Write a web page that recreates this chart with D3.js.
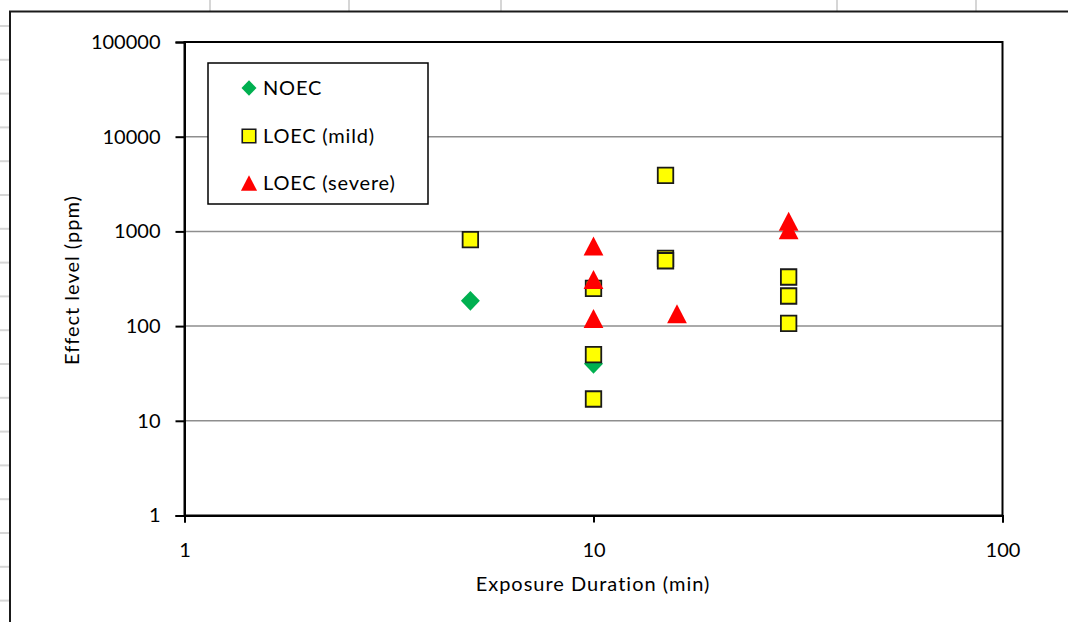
<!DOCTYPE html>
<html>
<head>
<meta charset="utf-8">
<script src="https://cdn.jsdelivr.net/npm/d3@7"></script>
<style>
  html, body { margin: 0; padding: 0; background: #ffffff; overflow: hidden; }
  svg { display: block; }
  text { font-family: Lato, "Liberation Sans", sans-serif; fill: #000; }
</style>
</head>
<body>
<svg id="chart" width="1068" height="622"></svg>
<script>
// ---- data ----
const noecX = [5, 10];
const noecY = [185, 40];
const mildX = [5, 10, 10, 10, 15, 15, 15, 30, 30, 30];
const mildY = [820, 250, 50, 17, 3900, 520, 490, 330, 208, 107];
const severeX = [10, 10, 10, 16, 30, 30];
const severeY = [700, 310, 120, 135, 1280, 1040];
const yTicks = [1, 10, 100, 1000, 10000, 100000];
const xTicks = [1, 10, 100];
const seriesNames = ["NOEC", "LOEC (mild)", "LOEC (severe)"];
const xTitle = "Exposure Duration (min)";
const yTitle = "Effect level (ppm)";

// ---- layout ----
const svg = d3.select("#chart");
const W = 1068, H = 622;
const plot = { left: 184.5, right: 1002.5, top: 42, bottom: 515.5 };

const x = d3.scaleLog().domain([1, 100]).range([plot.left, plot.right]);
const y = d3.scaleLog().domain([1, 100000]).range([plot.bottom, plot.top]);

// spreadsheet background lines
const bg = svg.append("g");
const colLines = [210, 349, 501, 837, 976];
colLines.forEach(cx => bg.append("line").attr("x1", cx).attr("x2", cx).attr("y1", 0).attr("y2", 11)
  .attr("stroke", "#d6d6d6").attr("stroke-width", 2));
for (let ry = 26; ry < H; ry += 33.8) {
  bg.append("line").attr("x1", 0).attr("x2", 9).attr("y1", ry).attr("y2", ry)
    .attr("stroke", "#d6d6d6").attr("stroke-width", 2);
}

// chart area
svg.append("rect").attr("x", 10).attr("y", 11.5).attr("width", 1200).attr("height", 800)
  .attr("fill", "#fff").attr("stroke", "#1a1a1a").attr("stroke-width", 2);

// gridlines
svg.append("g").selectAll("line").data(yTicks.filter(d => d > 1 && d < 100000)).join("line")
  .attr("x1", plot.left).attr("x2", plot.right)
  .attr("y1", d => y(d)).attr("y2", d => y(d))
  .attr("stroke", "#8e8e8e").attr("stroke-width", 1.5);

// plot frame
svg.append("rect").attr("x", plot.left).attr("y", plot.top)
  .attr("width", plot.right - plot.left).attr("height", plot.bottom - plot.top)
  .attr("fill", "none").attr("stroke", "#000").attr("stroke-width", 2);

// axes
const yAxis = d3.axisLeft(y).tickValues(yTicks).tickFormat(d3.format("d")).tickSize(9).tickPadding(15);
const gy = svg.append("g").attr("transform", `translate(${plot.left},0)`).call(yAxis);
gy.select(".domain").attr("stroke", "#000").attr("stroke-width", 2);
gy.selectAll(".tick line").attr("stroke", "#000").attr("stroke-width", 2);
gy.selectAll(".tick text").attr("font-size", 20).attr("font-family", "Lato, sans-serif").attr("fill", "#000");

const xAxis = d3.axisBottom(x).tickValues(xTicks).tickFormat(d3.format("d")).tickSize(7).tickPadding(20);
const gx = svg.append("g").attr("transform", `translate(0,${plot.bottom})`).call(xAxis);
gx.select(".domain").attr("stroke", "#000").attr("stroke-width", 2);
gx.selectAll(".tick line").attr("stroke", "#000").attr("stroke-width", 2);
gx.selectAll(".tick text").attr("font-size", 20).attr("font-family", "Lato, sans-serif").attr("fill", "#000");

// axis titles
svg.append("text").attr("x", 593).attr("y", 591).attr("text-anchor", "middle")
  .attr("font-size", 20).attr("letter-spacing", 1).text(xTitle);
svg.append("text").attr("transform", "translate(79,280) rotate(-90)").attr("text-anchor", "middle")
  .attr("font-size", 20).attr("letter-spacing", 1).text(yTitle);

// marker shapes (centered on bbox)
function diamond(s) { const w = s * 0.5, h = s * 0.52; return `M0,${-h}L${w},0L0,${h}L${-w},0Z`; }
function square(s) { const h = s / 2; return `M${-h},${-h}H${h}V${h}H${-h}Z`; }
function triangle(s) { const w = s * 0.52, h = s * 0.5; return `M0,${-h}L${w},${h}L${-w},${h}Z`; }

const pts = (xs, ys) => xs.map((v, i) => ({ x: v, y: ys[i] }));

svg.append("g").selectAll("path").data(pts(noecX, noecY)).join("path")
  .attr("transform", d => `translate(${x(d.x)},${y(d.y)})`)
  .attr("d", diamond(19)).attr("fill", "#00b050");

svg.append("g").selectAll("path").data(pts(mildX, mildY)).join("path")
  .attr("transform", d => `translate(${x(d.x)},${y(d.y)})`)
  .attr("d", square(15.5)).attr("fill", "#ffff00").attr("stroke", "#1a1a1a").attr("stroke-width", 1.8);

svg.append("g").selectAll("path").data(pts(severeX, severeY)).join("path")
  .attr("transform", d => `translate(${x(d.x)},${y(d.y)})`)
  .attr("d", triangle(19)).attr("fill", "#ff0000");

// legend
const lg = svg.append("g");
lg.append("rect").attr("x", 208).attr("y", 63).attr("width", 220).attr("height", 141)
  .attr("fill", "#fff").attr("stroke", "#000").attr("stroke-width", 1.5);
const legY = [88, 136, 183];
const legMarks = [
  { d: diamond(15), fill: "#00b050", stroke: "none" },
  { d: square(13.5), fill: "#ffff00", stroke: "#1a1a1a" },
  { d: triangle(15.5), fill: "#ff0000", stroke: "none" }
];
seriesNames.forEach((name, i) => {
  lg.append("path").attr("transform", `translate(249,${legY[i]})`).attr("d", legMarks[i].d)
    .attr("fill", legMarks[i].fill).attr("stroke", legMarks[i].stroke).attr("stroke-width", 1.6);
  lg.append("text").attr("x", 263).attr("y", legY[i]).attr("dy", "0.36em")
    .attr("font-size", 20).attr("letter-spacing", 0.8).text(name);
});
</script>
</body>
</html>
